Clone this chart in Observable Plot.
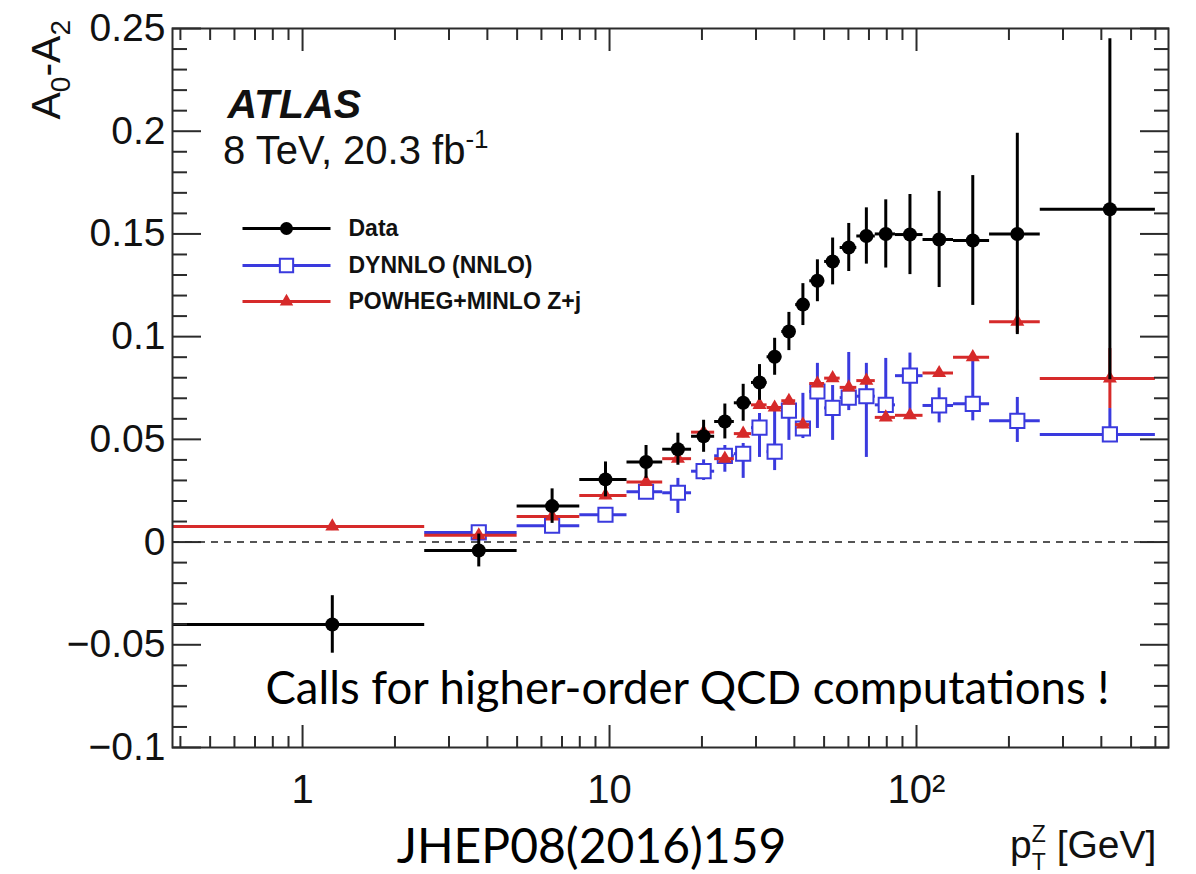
<!DOCTYPE html>
<html>
<head>
<meta charset="utf-8">
<script src="https://cdn.jsdelivr.net/npm/d3@7"></script>
<script src="https://cdn.jsdelivr.net/npm/@observablehq/plot@0.6"></script>
<style>
  html, body { margin: 0; padding: 0; background: #fff; }
  #chart { width: 1196px; height: 874px; }
</style>
</head>
<body>
<div id="chart"></div>
<script>
// p_T^Z binning (GeV) and the point position inside each bin
const binEdges = [0, 2.5, 5, 8, 11.4, 14.9, 18.5, 22, 25.5, 29, 32.6, 36.4, 40.4, 44.9, 50.2, 56.4, 63.9, 73.4, 85.4, 105, 132, 173, 253, 600];
const binCenters = [1.25, 3.75, 6.5, 9.7, 13.15, 16.7, 20.25, 23.75, 27.25, 30.8, 34.5, 38.4, 42.65, 47.55, 53.3, 60.15, 68.65, 79.4, 95.2, 118.5, 152.5, 213, 426.5];

// Measured A0 - A2 with total uncertainty
const dataValues = [-0.0401, -0.0041, 0.0175, 0.0305, 0.0390, 0.0452, 0.0515, 0.0587, 0.0678, 0.0777, 0.0902, 0.1025, 0.1156, 0.1272, 0.1366, 0.1434, 0.1490, 0.1500, 0.1497, 0.1473, 0.1468, 0.1500, 0.1620];
const dataErrors = [0.014, 0.008, 0.0084, 0.0085, 0.008, 0.0078, 0.0078, 0.0085, 0.009, 0.0087, 0.009, 0.0093, 0.0102, 0.0102, 0.0114, 0.0117, 0.0137, 0.0166, 0.0195, 0.0234, 0.0316, 0.049, 0.083];

// DYNNLO (NNLO) prediction with its uncertainty band edges (no prediction in the first bin)
const dynnloValues = [null, 0.0047, 0.0080, 0.0133, 0.0245, 0.0240, 0.0345, 0.0420, 0.0430, 0.0557, 0.0440, 0.0640, 0.0553, 0.0733, 0.0653, 0.0703, 0.0710, 0.0668, 0.0810, 0.0665, 0.0673, 0.0590, 0.0524];
const dynnloLow = [null, 0.0032, 0.0065, 0.0113, 0.0225, 0.0139, 0.0300, 0.0340, 0.0310, 0.0412, 0.0348, 0.0495, 0.0504, 0.0553, 0.0495, 0.0640, 0.0412, 0.0592, 0.0626, 0.0580, 0.0590, 0.0485, 0.0495];
const dynnloHigh = [null, 0.0062, 0.0095, 0.0153, 0.0265, 0.0310, 0.0400, 0.0470, 0.0480, 0.0626, 0.0675, 0.0700, 0.0724, 0.0870, 0.0762, 0.0923, 0.0870, 0.0894, 0.0920, 0.0750, 0.0900, 0.0704, 0.0650];

// POWHEG+MINLO Z+j prediction
const powhegValues = [0.0076, 0.0033, 0.0125, 0.0227, 0.0293, 0.0406, 0.0535, 0.0406, 0.0528, 0.0668, 0.0655, 0.0688, 0.0572, 0.0772, 0.0798, 0.0753, 0.0786, 0.0607, 0.0617, 0.0823, 0.0900, 0.1073, 0.0796];
const powhegErrors = [0.002, 0.002, 0.002, 0.002, 0.002, 0.002, 0.002, 0.002, 0.002, 0.002, 0.002, 0.002, 0.002, 0.002, 0.002, 0.002, 0.002, 0.002, 0.002, 0.002, 0.002, 0.0055, 0.0146];

// Axis ticks and labels
const xTicks = [1, 10, 100];
const xTickLabels = ["1", "10", "10\u00B2"];
const xMinorTicks = [0.4, 0.5, 0.6, 0.7, 0.8, 0.9, 2, 3, 4, 5, 6, 7, 8, 9, 20, 30, 40, 50, 60, 70, 80, 90, 200, 300, 400, 500, 600];
const yTicks = [-0.1, -0.05, 0, 0.05, 0.1, 0.15, 0.2, 0.25];
const yTickLabels = ["\u22120.1", "\u22120.05", "0", "0.05", "0.1", "0.15", "0.2", "0.25"];
const yMinorTicks = d3.range(-10, 26).filter(i => i % 5 !== 0).map(i => i / 100);

const legendLabels = ["Data", "DYNNLO (NNLO)", "POWHEG+MINLO Z+j"];

const xDomain = [0.377, 662];
const yDomain = [-0.1, 0.25];

const blue = "#3a3ade";
const red = "#d62a2a";
const ink = "#111";
const axisInk = "#2b2b2b";

const rows = binCenters.map((pt, i) => ({
  pt,
  lo: Math.max(binEdges[i], xDomain[0]),
  hi: binEdges[i + 1],
  data: dataValues[i],
  dataLo: dataValues[i] - dataErrors[i],
  dataHi: dataValues[i] + dataErrors[i],
  dyn: dynnloValues[i],
  dynLo: dynnloLow[i],
  dynHi: dynnloHigh[i],
  pow: powhegValues[i],
  powLo: powhegValues[i] - powhegErrors[i],
  powHi: powhegValues[i] + powhegErrors[i]
}));
const dynRows = rows.filter(d => d.dyn != null);

// horizontal stroke used as the legend line sample
const legendLine = {draw(context) { context.moveTo(-44, 0); context.lineTo(44, 0); }};

const legendY = [200, 237, 273];
const legendMarks = [
  Plot.dot([0], {frameAnchor: "top-left", dx: 114, dy: legendY[0], symbol: legendLine, r: 5, fill: "none", stroke: "black", strokeWidth: 3}),
  Plot.dot([0], {frameAnchor: "top-left", dx: 114, dy: legendY[0], r: 6.5, fill: "black"}),
  Plot.dot([0], {frameAnchor: "top-left", dx: 114, dy: legendY[1], symbol: legendLine, r: 5, fill: "none", stroke: blue, strokeWidth: 3}),
  Plot.dot([0], {frameAnchor: "top-left", dx: 114, dy: legendY[1], symbol: "square", r: 7.5, fill: "white", stroke: blue, strokeWidth: 2}),
  Plot.dot([0], {frameAnchor: "top-left", dx: 114, dy: legendY[2], symbol: legendLine, r: 5, fill: "none", stroke: red, strokeWidth: 3}),
  Plot.dot([0], {frameAnchor: "top-left", dx: 114, dy: legendY[2], symbol: "triangle", r: 5, fill: red}),
  ...legendLabels.map((label, i) => Plot.text([label], {
    frameAnchor: "top-left", dx: 176, dy: legendY[i], text: d => d,
    textAnchor: "start", lineAnchor: "middle", fontSize: 23, fontWeight: "bold", fill: ink
  }))
];

const tickStyle = {fill: "none", label: null, stroke: axisInk, strokeWidth: 2};

const chart = Plot.plot({
  width: 1196,
  height: 874,
  marginLeft: 172,
  marginRight: 28,
  marginTop: 28,
  marginBottom: 127,
  style: {fontFamily: "'Liberation Sans', Arial, sans-serif", background: "white", color: ink},
  x: {type: "log", domain: xDomain},
  y: {domain: yDomain},
  marks: [
    // zero reference
    Plot.ruleY([0], {stroke: "#555", strokeWidth: 2, strokeDasharray: "7,6"}),

    // DYNNLO
    Plot.ruleY(dynRows, {y: "dyn", x1: "lo", x2: "hi", stroke: blue, strokeWidth: 3}),
    Plot.ruleX(dynRows, {x: "pt", y1: "dynLo", y2: "dynHi", stroke: blue, strokeWidth: 3}),
    Plot.dot(dynRows, {x: "pt", y: "dyn", symbol: "square", r: 8, fill: "white", stroke: blue, strokeWidth: 2}),

    // POWHEG+MINLO
    Plot.ruleY(rows, {y: "pow", x1: "lo", x2: "hi", stroke: red, strokeWidth: 3}),
    Plot.ruleX(rows, {x: "pt", y1: "powLo", y2: "powHi", stroke: red, strokeWidth: 3}),
    Plot.dot(rows, {x: "pt", y: "pow", symbol: "triangle", r: 5.2, fill: red}),

    // Data
    Plot.ruleY(rows, {y: "data", x1: "lo", x2: "hi", stroke: "black", strokeWidth: 3}),
    Plot.ruleX(rows, {x: "pt", y1: "dataLo", y2: "dataHi", stroke: "black", strokeWidth: 3}),
    Plot.dot(rows, {x: "pt", y: "data", r: 7, fill: "black"}),

    // frame with inward ticks on all four sides
    Plot.frame({stroke: axisInk, strokeWidth: 2}),
    Plot.axisX(xTicks, {anchor: "bottom", tickSize: 22, dy: -22, ...tickStyle}),
    Plot.axisX(xMinorTicks, {anchor: "bottom", tickSize: 11, dy: -11, ...tickStyle}),
    Plot.axisX(xTicks, {anchor: "top", tickSize: 22, dy: 22, ...tickStyle}),
    Plot.axisX(xMinorTicks, {anchor: "top", tickSize: 11, dy: 11, ...tickStyle}),
    Plot.axisY(yTicks, {anchor: "left", tickSize: 29, dx: 29, ...tickStyle}),
    Plot.axisY(yMinorTicks, {anchor: "left", tickSize: 15, dx: 15, ...tickStyle}),
    Plot.axisY(yTicks, {anchor: "right", tickSize: 29, dx: -29, ...tickStyle}),
    Plot.axisY(yMinorTicks, {anchor: "right", tickSize: 15, dx: -15, ...tickStyle}),

    // tick labels
    Plot.axisX(xTicks, {anchor: "bottom", tickSize: 0, tickPadding: 27, fontSize: 40, label: null, fill: ink,
      tickFormat: d => xTickLabels[xTicks.indexOf(d)]}),
    Plot.axisY(yTicks, {anchor: "left", tickSize: 0, tickPadding: 7, fontSize: 39, label: null, fill: ink,
      tickFormat: d => yTickLabels[yTicks.findIndex(t => Math.abs(t - d) < 1e-9)]}),

    // experiment label
    Plot.text(["ATLAS"], {frameAnchor: "top-left", dx: 55, dy: 89, text: d => d, textAnchor: "start", lineAnchor: "bottom",
      fontSize: 41, fontWeight: "bold", fontStyle: "italic", fill: ink}),

    ...legendMarks,

    // annotations
    Plot.text(["Calls for higher-order QCD computations !"], {frameAnchor: "bottom", dx: 17, dy: -44, text: d => d,
      textAnchor: "middle", lineAnchor: "bottom", fontSize: 45.5, fontFamily: "Lato, 'Open Sans', sans-serif", fill: "#000"}),
    Plot.text(["JHEP08(2016)159"], {frameAnchor: "bottom", dx: -79, dy: 115, text: d => d,
      textAnchor: "middle", lineAnchor: "bottom", fontSize: 48, fontFamily: "Lato, 'Open Sans', sans-serif", fill: "#000"})
  ]
});

document.getElementById("chart").appendChild(chart);

// text with sub/superscripts
function richText(svg, opts, parts) {
  const t = d3.select(svg).append("text")
    .attr("x", opts.x).attr("y", opts.y)
    .attr("font-family", opts.family || "'Liberation Sans', Arial, sans-serif")
    .attr("font-size", opts.size)
    .attr("fill", opts.fill || ink)
    .attr("text-anchor", opts.anchor || "start");
  if (opts.rotate) t.attr("transform", `rotate(${opts.rotate},${opts.x},${opts.y})`);
  let shift = 0;
  for (const p of parts) {
    const s = t.append("tspan").text(p.text);
    const target = p.shift || 0;
    if (target !== shift) s.attr("dy", target - shift);
    shift = target;
    s.attr("font-size", p.size || opts.size);
    if (p.dx) s.attr("dx", p.dx);
  }
  return t;
}

richText(chart, {x: 60, y: 20, size: 41, rotate: -90, anchor: "end"}, [
  {text: "A"}, {text: "0", shift: 10, size: 28}, {text: "-"}, {text: "A"}, {text: "2", shift: 10, size: 28}
]);

richText(chart, {x: 223, y: 164, size: 40}, [
  {text: "8 TeV, 20.3 fb"}, {text: "-1", shift: -16, size: 26}
]);

richText(chart, {x: 1010, y: 858, size: 39}, [
  {text: "p"}, {text: "Z", shift: -16, size: 23}, {text: "T", shift: 12, size: 23, dx: -14}, {text: " [GeV]", shift: 0}
]);
</script>
</body>
</html>
